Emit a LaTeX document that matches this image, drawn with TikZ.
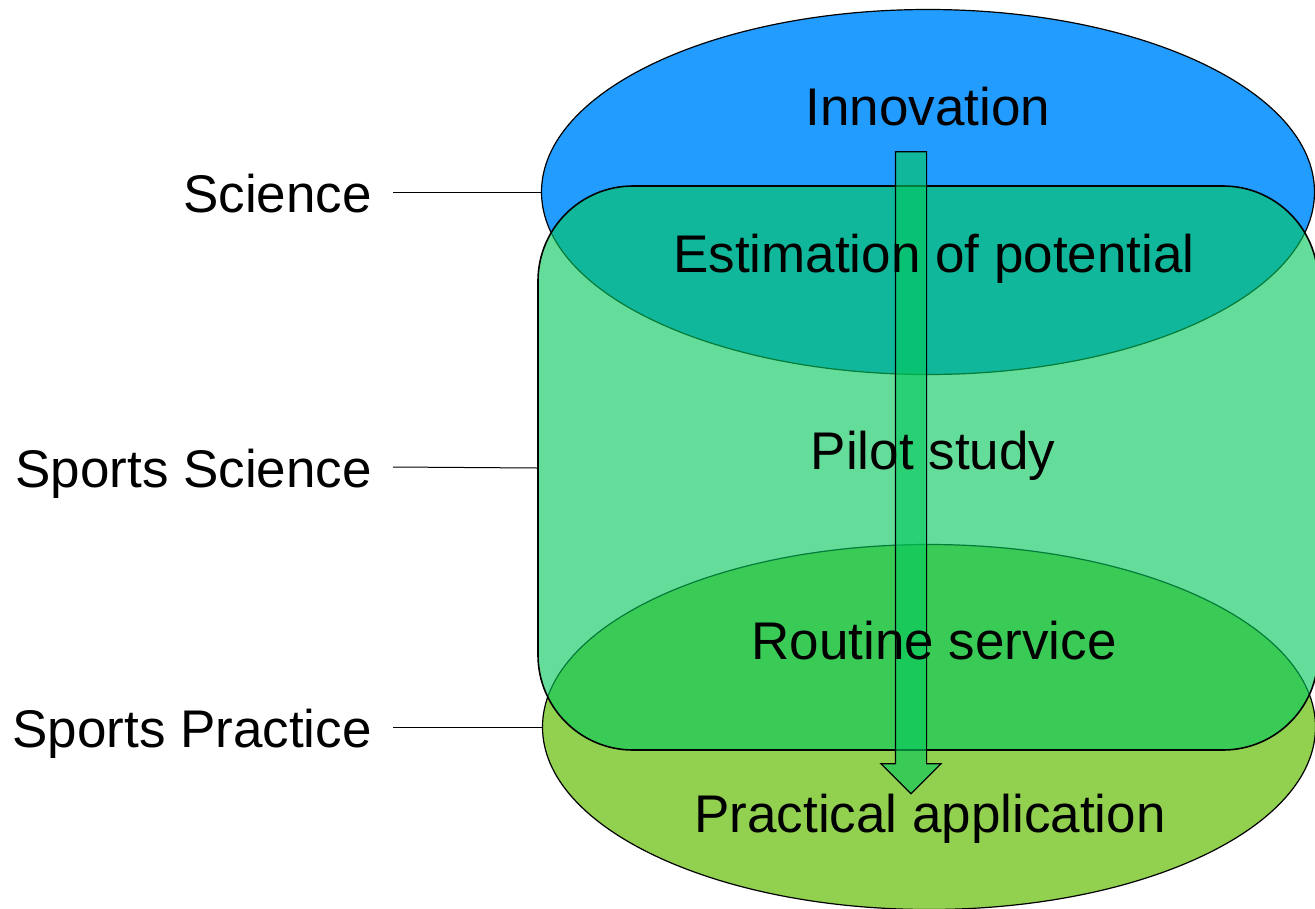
\documentclass[tikz,border=0pt]{standalone}
\usepackage{fontspec}
\setmainfont{Liberation Sans}
\usetikzlibrary{shapes.geometric, shapes.arrows, positioning}
\definecolor{sciblue}{RGB}{34, 157, 255}
\definecolor{practgreen}{RGB}{146, 208, 80}
\definecolor{pilotgreen}{RGB}{5, 200, 92}

\begin{document}
\begin{tikzpicture}[
    x=1pt, y=-1pt,
    disc/.style={ellipse, draw=black, line width=1.2pt,
                 minimum width=773pt, minimum height=365pt, inner sep=0pt},
    band/.style={rectangle, draw=black, line width=1.6pt,
                 fill=pilotgreen, fill opacity=0.62, rounded corners=95pt,
                 minimum width=780pt, minimum height=564pt, inner sep=0pt},
    flow/.style={single arrow, draw=black, line width=1.2pt,
                 fill=pilotgreen, fill opacity=0.62, shape border rotate=270,
                 minimum height=642pt, minimum width=59pt,
                 single arrow head extend=14.5pt, inner sep=15pt},
    lbl/.style={font=\fontsize{53}{60}\selectfont, inner sep=0pt, anchor=base},
    lead/.style={line width=1pt}
]
\useasboundingbox (0,0) rectangle (1315,908);

% layers, back to front
\node[disc, fill=sciblue] (innov) at (928,192) {};
\node[disc, fill=practgreen] (practice) at (929,727) {};
\node[band] (pilot) at (928,468) {};
\node[flow] (down) at (911,465) {};

% stage texts (placed on their baselines)
\node[lbl] (tinnov) at (928,125) {Innovation};
\node[lbl] (testim) at (934,272) {Estimation of potential};
\node[lbl] (tpilot) at (933,469) {Pilot study};
\node[lbl] (troutine) at (934,659) {Routine service};
\node[lbl] (tapply) at (930,832) {Practical application};

% side labels
\node[lbl, anchor=base east] (science) at (372,212) {Science};
\node[lbl, anchor=base east] (sportsci) at (372,487) {Sports Science};
\node[lbl, anchor=base east] (sportprac) at (372,747) {Sports Practice};

\draw[lead] ([shift={(21pt,20pt)}]science.base east) -- (innov.west);
\draw[lead] ([shift={(21pt,20pt)}]sportsci.base east) -- (pilot.west);
\draw[lead] ([shift={(21pt,20pt)}]sportprac.base east) -- (practice.west);

\end{tikzpicture}
\end{document}
